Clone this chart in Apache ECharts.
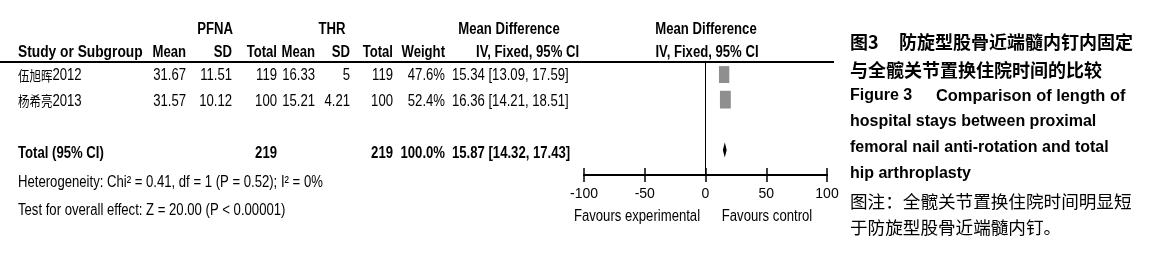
<!DOCTYPE html>
<html>
<head>
<meta charset="utf-8">
<script src="https://cdn.jsdelivr.net/npm/echarts@6/dist/echarts.min.js"></script>
<style>
  html, body { margin: 0; padding: 0; background: #fff; }
  #forest { width: 1156px; height: 259px; }
</style>
</head>
<body>
<div id="forest"></div>
<script>
// study data
var studies = ['伍旭晖2012', '杨希亮2013']
var pfnaMean = [31.67, 31.57]
var pfnaSD = [11.51, 10.12]
var pfnaTotal = [119, 100]
var thrMean = [16.33, 15.21]
var thrSD = [5, 4.21]
var thrTotal = [119, 100]
var weights = [47.6, 52.4]
var mdValue = [15.34, 16.36]
var ciLow = [13.09, 14.21]
var ciHigh = [17.59, 18.51]
// pooled
var totalN = [219, 219]
var totalWeight = 100.0
var totalMD = [15.87, 14.32, 17.43]
var axisTicks = [-100, -50, 0, 50, 100]

var sans = '"Liberation Sans", Arial, sans-serif'
var cjk = '"Noto Sans CJK SC", sans-serif'
var fs = 16
var narrowX = 0.82 // squeeze Liberation Sans to look like Arial Narrow

var myChart = echarts.init(document.getElementById('forest'))

// row -> pixel (same mapping as the y axis below)
var gridTop = 62, gridH = 113, yMin = 0.5, yMax = 5
function rowY(r) {
  return gridTop + (r - yMin) / (yMax - yMin) * gridH
}

function txt(x, y, s, opt) {
  opt = opt || {}
  var el = {
    type: 'text',
    x: x,
    y: y,
    scaleX: opt.scaleX || 1,
    style: {
      text: s,
      fill: '#000',
      font: (opt.bold ? 'bold ' : '') + (opt.size || fs) + 'px ' + (opt.family || sans),
      align: opt.align || 'left',
      verticalAlign: 'middle'
    }
  }
  if (opt.rich) el.style.rich = opt.rich
  return el
}
// table text: narrow
function ntxt(x, y, s, opt) {
  opt = opt || {}
  opt.scaleX = opt.scaleX || narrowX
  return txt(x, y, s, opt)
}

var g = []
// column headers
g.push(ntxt(215, 30, 'PFNA', { bold: true, align: 'center' }))
g.push(ntxt(332, 30, 'THR', { bold: true, align: 'center' }))
g.push(ntxt(509, 30, 'Mean Difference', { bold: true, align: 'center' }))
g.push(ntxt(706, 30, 'Mean Difference', { bold: true, align: 'center' }))
g.push(ntxt(18, 53, 'Study or Subgroup', { bold: true, scaleX: 0.86 }))
var colX = [186, 232, 277, 315, 350, 393, 445]
var colNames = ['Mean', 'SD', 'Total', 'Mean', 'SD', 'Total', 'Weight']
for (var c = 0; c < colX.length; c++) {
  g.push(ntxt(colX[c], 53, colNames[c], { bold: true, align: 'right' }))
}
g.push(ntxt(476, 53, 'IV, Fixed, 95% CI', { bold: true }))
g.push(ntxt(707, 53, 'IV, Fixed, 95% CI', { bold: true, align: 'center' }))
g.push({
  type: 'line',
  shape: { x1: 0, y1: gridTop, x2: 834, y2: gridTop },
  style: { stroke: '#000', lineWidth: 2 }
})

// study rows
var nameRich = {
  c: { font: '14px ' + cjk, fill: '#000' },
  d: { font: fs + 'px ' + sans, fill: '#000' }
}
for (var i = 0; i < studies.length; i++) {
  var y = rowY(i + 1) + 1.5
  var m = studies[i].match(/^(\D+)(\d+)$/)
  g.push(ntxt(18, y, '{c|' + m[1] + '}{d|' + m[2] + '}', { rich: nameRich }))
  var vals = [pfnaMean[i], pfnaSD[i], pfnaTotal[i], thrMean[i], thrSD[i], thrTotal[i], weights[i].toFixed(1) + '%']
  for (var c = 0; c < vals.length; c++) {
    g.push(ntxt(colX[c], y, String(vals[c]), { align: 'right' }))
  }
  g.push(ntxt(452, y, mdValue[i].toFixed(2) + ' [' + ciLow[i].toFixed(2) + ', ' + ciHigh[i].toFixed(2) + ']'))
}

// total row
var ty = rowY(4) + 4
g.push(ntxt(18, ty, 'Total (95% CI)', { bold: true }))
g.push(ntxt(colX[2], ty, String(totalN[0]), { bold: true, align: 'right' }))
g.push(ntxt(colX[5], ty, String(totalN[1]), { bold: true, align: 'right' }))
g.push(ntxt(colX[6], ty, totalWeight.toFixed(1) + '%', { bold: true, align: 'right' }))
g.push(ntxt(452, ty, totalMD[0].toFixed(2) + ' [' + totalMD[1].toFixed(2) + ', ' + totalMD[2].toFixed(2) + ']', { bold: true }))
g.push(ntxt(18, 183, 'Heterogeneity: Chi² = 0.41, df = 1 (P = 0.52); I² = 0%'))
g.push(ntxt(18, 211, 'Test for overall effect: Z = 20.00 (P < 0.00001)'))

// favours labels
g.push(ntxt(637, 217, 'Favours experimental', { align: 'center' }))
g.push(ntxt(767, 217, 'Favours control', { align: 'center' }))

// caption
g.push(txt(850, 42, '图3', { bold: true, family: cjk, size: 18 }))
g.push(txt(899, 42, '防旋型股骨近端髓内钉内固定', { bold: true, family: cjk, size: 18 }))
g.push(txt(850, 70, '与全髋关节置换住院时间的比较', { bold: true, family: cjk, size: 18 }))
g.push(txt(850, 96, 'Figure 3', { bold: true, size: 16 }))
g.push(txt(936, 96, 'Comparison of length of', { bold: true, size: 16.4 }))
g.push(txt(850, 122, 'hospital stays between proximal', { bold: true, size: 16 }))
g.push(txt(850, 148, 'femoral nail anti-rotation and total', { bold: true, size: 16 }))
g.push(txt(850, 174, 'hip arthroplasty', { bold: true, size: 16 }))
g.push(txt(850, 201, '图注：全髋关节置换住院时间明显短', { family: cjk, size: 17.6 }))
g.push(txt(850, 227, '于防旋型股骨近端髓内钉。', { family: cjk, size: 17.6 }))

var studyData = studies.map(function(s, i) {
  return [mdValue[i], i + 1, ciLow[i], ciHigh[i], weights[i]]
})

var option = {
  backgroundColor: '#fff',
  animation: false,
  grid: { left: 584, width: 243, top: gridTop, height: gridH },
  xAxis: [
    {
      type: 'value', min: -100, max: 100, interval: 50, position: 'bottom',
      axisLine: { show: true, lineStyle: { color: '#000', width: 2 } },
      axisTick: { show: true, inside: true, length: 7, lineStyle: { color: '#000', width: 1.5 } },
      axisLabel: { show: false },
      splitLine: { show: false }
    },
    {
      type: 'value', min: -100, max: 100, interval: 50, position: 'bottom', offset: 0,
      axisLine: { show: true, lineStyle: { color: '#000', width: 2 } },
      axisTick: { show: true, length: 7, lineStyle: { color: '#000', width: 1.5 } },
      axisLabel: {
        margin: 12, color: '#000', fontSize: 14, fontFamily: sans,
        formatter: function(v) { return axisTicks.indexOf(v) >= 0 ? String(v) : '' }
      },
      splitLine: { show: false }
    }
  ],
  yAxis: { type: 'value', min: yMin, max: yMax, inverse: true, show: false },
  series: [
    {
      type: 'custom',
      xAxisIndex: 0,
      data: studyData,
      renderItem: function(params, api) {
        var c = api.coord([api.value(0), api.value(1)])
        var lo = api.coord([api.value(2), api.value(1)])
        var hi = api.coord([api.value(3), api.value(1)])
        var w = 1.5 * Math.sqrt(api.value(4))
        var h = 2.45 * Math.sqrt(api.value(4))
        return {
          type: 'group',
          children: [
            { type: 'line', shape: { x1: lo[0], y1: c[1], x2: hi[0], y2: c[1] }, style: { stroke: '#000', lineWidth: 1 } },
            { type: 'rect', shape: { x: c[0] - w / 2, y: c[1] - h / 2, width: w, height: h }, style: { fill: '#8f8f8f' } }
          ]
        }
      },
      markLine: {
        silent: true,
        symbol: 'none',
        label: { show: false },
        lineStyle: { color: '#000', width: 1, type: 'solid' },
        data: [{ xAxis: 0 }]
      }
    },
    {
      type: 'custom',
      xAxisIndex: 0,
      data: [[totalMD[0], 4, totalMD[1], totalMD[2]]],
      renderItem: function(params, api) {
        var c = api.coord([api.value(0), api.value(1)])
        var lo = api.coord([api.value(2), api.value(1)])
        var hi = api.coord([api.value(3), api.value(1)])
        return {
          type: 'polygon',
          shape: { points: [[lo[0], c[1]], [c[0], c[1] - 7.5], [hi[0], c[1]], [c[0], c[1] + 7.5]] },
          style: { fill: '#000' }
        }
      }
    }
  ],
  graphic: g
}
myChart.setOption(option)
</script>
</body>
</html>
